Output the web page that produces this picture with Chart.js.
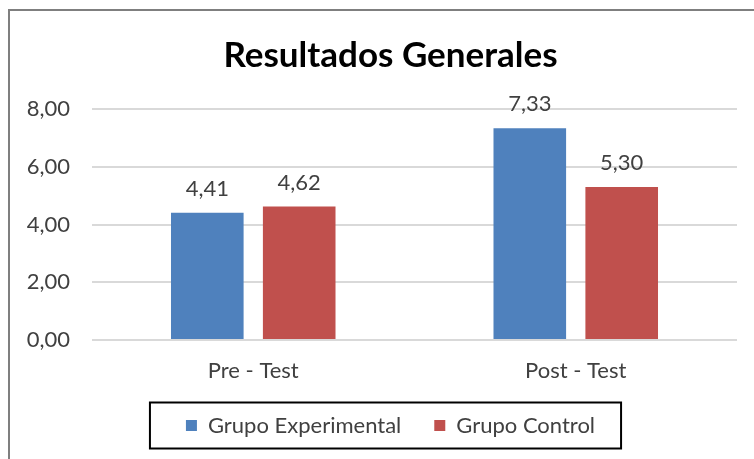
<!DOCTYPE html>
<html>
<head>
<meta charset="utf-8">
<script src="https://cdn.jsdelivr.net/npm/chart.js@4.4.1/dist/chart.umd.min.js"></script>
<style>
  html, body { margin: 0; padding: 0; background: #fff; }
  #frame { position: absolute; left: 8px; top: 9px; width: 760px; height: 460px;
           border-left: 2px solid #7f7f7f; border-top: 2px solid #7f7f7f; }
  #wrap { position: absolute; left: 0; top: 0; width: 754px; height: 459px; }
</style>
</head>
<body>
<div id="frame"></div>
<div id="wrap"><canvas id="chart"></canvas></div>
<script>
const categories = ['Pre - Test', 'Post - Test'];
const experimental = [4.41, 7.33];
const control = [4.62, 5.30];
const yTicks = [0, 2, 4, 6, 8];

const fmt = v => v.toFixed(2).replace('.', ',');
const FONT = 'Lato, "Open Sans", sans-serif';
const TXT = 22;

// value labels above each bar
const barLabels = {
    id: 'barLabels',
    afterDatasetsDraw(chart) {
        const ctx = chart.ctx;
        ctx.save();
        ctx.font = TXT + 'px ' + FONT;
        ctx.fillStyle = '#404040';
        ctx.textAlign = 'center';
        ctx.textBaseline = 'bottom';
        chart.data.datasets.forEach((ds, i) => {
            chart.getDatasetMeta(i).data.forEach((bar, j) => {
                ctx.fillText(fmt(ds.data[j]), bar.x, bar.y - 13);
            });
        });
        ctx.restore();
    }
};

// y labels stick out left of the narrow axis box, so don't clip them
const noLabelClip = {
    id: 'noLabelClip',
    afterLayout(chart) {
        chart.scales.y._computeLabelArea = () => undefined;
    }
};

// black box round the legend
const legendBox = {
    id: 'legendBox',
    afterDraw(chart) {
        const boxes = chart.legend.legendHitBoxes;
        if (!boxes || !boxes.length) return;
        const left = Math.min(...boxes.map(b => b.left)) - 36;
        const right = Math.max(...boxes.map(b => b.left + b.width)) + 26;
        const top = boxes[0].top - 12;
        const bottom = boxes[0].top + boxes[0].height + 12;
        const ctx = chart.ctx;
        ctx.save();
        ctx.strokeStyle = '#000';
        ctx.lineWidth = 2;
        ctx.strokeRect(left, top, right - left, bottom - top);
        ctx.restore();
    }
};

new Chart(document.getElementById('chart'), {
    type: 'bar',
    data: {
        labels: categories,
        datasets: [
            { label: 'Grupo Experimental', data: experimental, backgroundColor: '#4f81bd' },
            { label: 'Grupo Control', data: control, backgroundColor: '#c0504d' }
        ]
    },
    options: {
        responsive: true,
        maintainAspectRatio: false,
        animation: false,
        categoryPercentage: 0.57,
        barPercentage: 0.79,
        layout: { padding: { left: 44, right: 17, top: 21, bottom: 12.5 } },
        scales: {
            x: {
                afterFit(scale) { scale.height = 41.5; },
                grid: { display: false, drawTicks: false },
                border: { display: false },
                ticks: { color: '#404040', font: { family: FONT, size: TXT }, padding: 18 }
            },
            y: {
                min: 0,
                max: 8,
                afterFit(scale) { scale.width = 48; },
                afterBuildTicks(scale) { scale.ticks = yTicks.map(v => ({ value: v })); },
                grid: { color: '#d9d9d9', lineWidth: 2, drawTicks: false },
                border: { display: false },
                ticks: {
                    color: '#404040',
                    font: { family: FONT, size: TXT },
                    padding: 22,
                    callback: v => fmt(v)
                }
            }
        },
        plugins: {
            title: {
                display: true,
                text: 'Resultados Generales',
                color: '#000',
                font: { family: FONT, size: 35, weight: 'bold' },
                padding: { top: 14, bottom: 32 }
            },
            legend: {
                position: 'bottom',
                labels: {
                    color: '#404040',
                    font: { family: FONT, size: TXT },
                    boxWidth: 11,
                    boxHeight: 11,
                    padding: 33
                }
            },
            tooltip: { enabled: false }
        }
    },
    plugins: [barLabels, noLabelClip, legendBox]
});
</script>
</body>
</html>
